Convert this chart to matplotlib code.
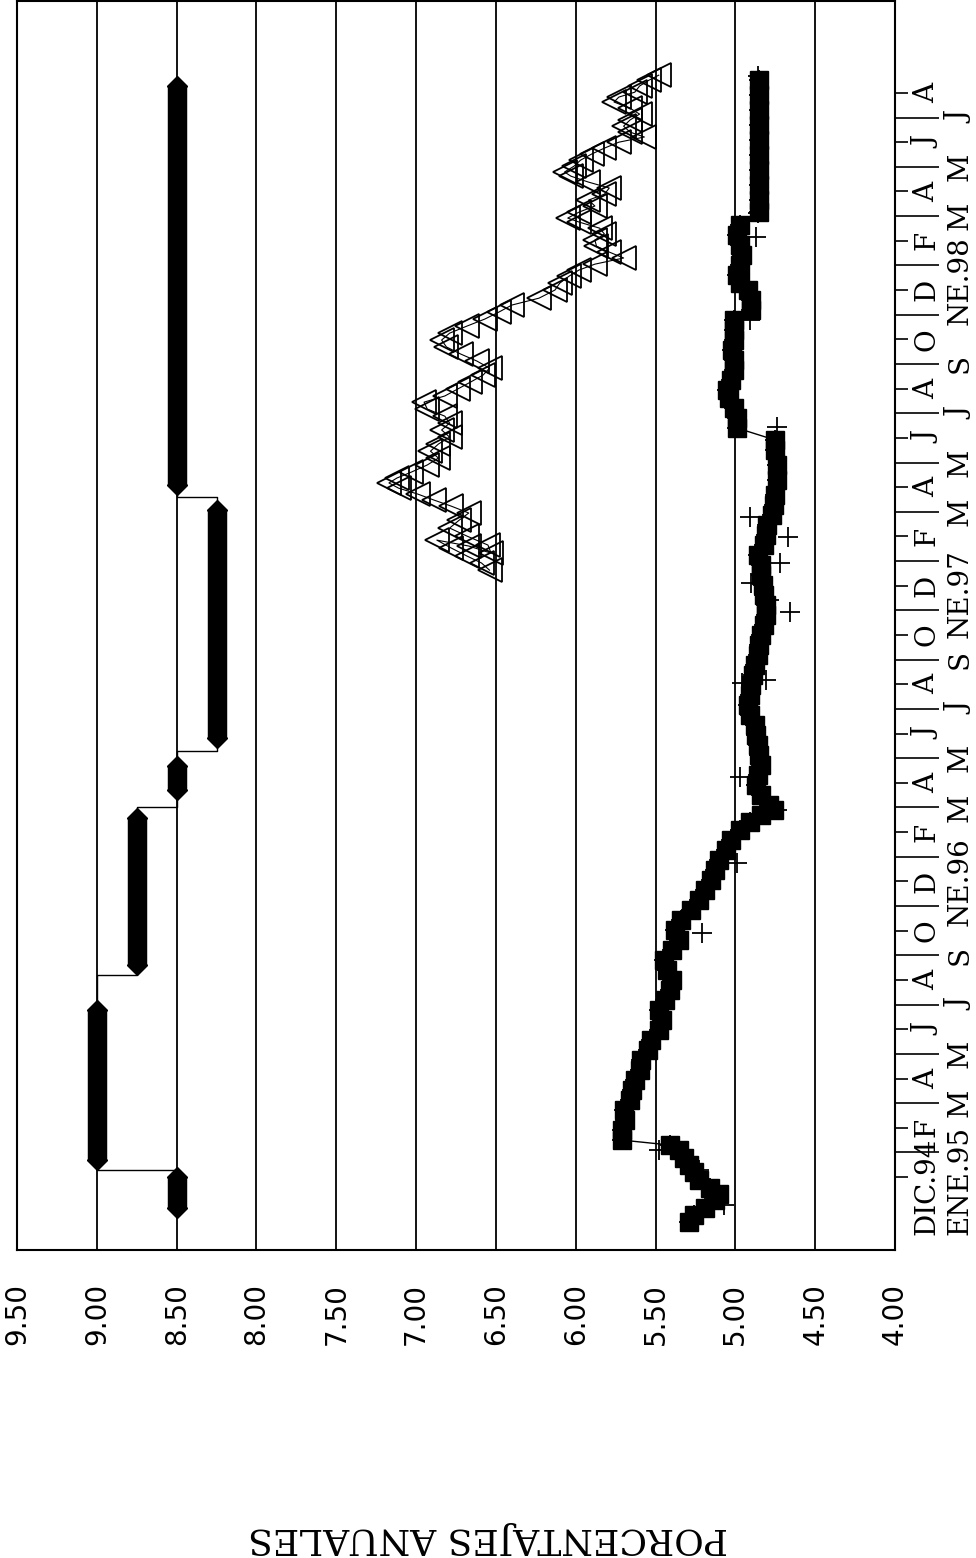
import matplotlib
matplotlib.use('Agg')
import matplotlib.pyplot as plt
import matplotlib.transforms as mtransforms
import numpy as np

# time axis is in months counted from DIC.94 (0) ; value axis in % (drawn reversed)

# official rate: levels held between dates (thick bars) and dates of change
rate_start = [-1.26, 0.69, 8.6, 15.7, 17.8, 28.1]
rate_end = [0.0, 6.78, 14.57, 16.7, 27.07, 44.3]
rate_level = [8.50, 9.00, 8.75, 8.50, 8.25, 8.50]
rate_change = [0.28, 8.2, 15.0, 17.3, 27.6]

# triangle series (from end 1996)
tri_t = [24.63, 24.92, 25.20, 25.53, 25.85, 25.61, 25.32, 25.65, 26.01, 26.34,
         26.66, 26.95, 27.23, 27.48, 27.72, 27.96, 28.17, 28.37, 28.61, 28.90,
         29.18, 29.46, 29.75, 30.03, 30.32, 30.60, 30.88, 31.17, 31.45, 31.70,
         31.98, 32.26, 32.55, 32.83, 33.12, 33.40, 33.69, 33.97, 34.25, 34.54,
         34.82, 35.11, 35.39, 35.67, 36.00, 36.28, 36.57, 36.81, 37.05, 37.30,
         37.54, 37.78, 38.03, 38.27, 38.51, 38.76, 38.92, 39.16, 39.41, 39.65,
         39.89, 40.14, 40.38, 40.62, 40.79, 41.03, 41.27, 41.52, 41.76, 42.00,
         42.21, 42.41, 42.65, 42.90, 43.14, 43.38, 43.63, 43.83, 44.03, 44.28,
         44.52, 44.72]
tri_v = [6.54, 6.59, 6.68, 6.78, 6.87, 6.67, 6.53, 6.55, 6.68, 6.79,
         6.73, 6.67, 6.78, 6.89, 6.99, 7.11, 7.17, 7.12, 7.03, 6.93,
         6.86, 6.91, 6.86, 6.79, 6.84, 6.79, 6.82, 6.93, 6.95, 6.82,
         6.74, 6.66, 6.58, 6.54, 6.62, 6.72, 6.81, 6.84, 6.79, 6.68,
         6.57, 6.48, 6.40, 6.23, 6.13, 6.10, 6.04, 5.98, 5.88, 5.70,
         5.79, 5.87, 5.88, 5.82, 5.85, 5.98, 6.05, 5.98, 5.88, 5.92,
         5.82, 5.79, 5.92, 6.03, 6.07, 6.01, 5.97, 5.90, 5.82, 5.73,
         5.57, 5.66, 5.70, 5.66, 5.60, 5.66, 5.76, 5.73, 5.63, 5.60,
         5.54, 5.48]

# square / cross series
sq_t = [-1.83, -1.54, -1.26, -0.93, -0.69, -0.45, -0.12, 0.20, 0.49, 0.77,
        1.10, 1.30, 1.50, 1.91, 2.31, 2.72, 3.12, 3.53, 3.94, 4.34,
        4.75, 5.15, 5.56, 5.97, 6.37, 6.78, 7.18, 7.59, 7.99, 8.40,
        8.81, 9.21, 9.62, 10.02, 10.43, 10.84, 11.24, 11.65, 12.05, 12.46,
        12.87, 13.27, 13.68, 14.08, 14.41, 14.69, 14.89, 15.10, 15.50, 15.91,
        16.31, 16.72, 17.13, 17.53, 17.94, 18.34, 18.75, 19.16, 19.56, 19.97,
        20.37, 20.78, 21.19, 21.59, 22.00, 22.40, 22.81, 23.21, 23.62, 24.03,
        24.43, 24.84, 25.24, 25.65, 26.06, 26.46, 26.87, 27.27, 27.68, 28.29,
        28.90, 29.50, 29.91, 30.40, 30.80, 31.21, 31.62, 31.94, 32.35, 32.75,
        33.16, 33.56, 33.97, 34.38, 34.78, 35.19, 35.59, 36.00, 36.28, 36.61,
        37.01, 37.42, 37.82, 38.23, 38.64, 39.16, 39.65, 40.26, 40.87, 41.48,
        42.09, 42.69, 43.30, 43.91, 44.52]
sq_v = [5.29, 5.26, 5.19, 5.13, 5.10, 5.16, 5.23, 5.26, 5.29, 5.32,
        5.35, 5.41, 5.71, 5.71, 5.69, 5.70, 5.66, 5.65, 5.63, 5.60,
        5.59, 5.55, 5.53, 5.48, 5.46, 5.48, 5.44, 5.41, 5.40, 5.43,
        5.45, 5.40, 5.35, 5.38, 5.34, 5.28, 5.23, 5.19, 5.15, 5.13,
        5.10, 5.06, 5.03, 4.97, 4.91, 4.84, 4.76, 4.79, 4.84, 4.87,
        4.86, 4.84, 4.85, 4.86, 4.87, 4.88, 4.91, 4.92, 4.91, 4.90,
        4.89, 4.88, 4.86, 4.85, 4.84, 4.82, 4.81, 4.81, 4.82, 4.83,
        4.84, 4.84, 4.86, 4.82, 4.81, 4.80, 4.77, 4.76, 4.75, 4.74,
        4.74, 4.75, 4.75, 4.99, 4.99, 5.01, 5.04, 5.05, 5.03, 5.01,
        5.01, 5.02, 5.01, 5.01, 5.01, 4.90, 4.90, 4.92, 4.97, 4.99,
        4.97, 4.96, 4.97, 4.99, 4.97, 4.85, 4.85, 4.85, 4.85, 4.85,
        4.85, 4.85, 4.85, 4.85, 4.85]

# loose crosses away from the band
plus_t = [-1.14, 0.28, 1.10, 9.90, 12.74, 14.89, 16.23, 20.05, 20.17, 22.93,
          23.42, 24.11, 24.92, 25.97, 26.79, 30.44, 34.78, 38.15, 39.12, 44.70]
plus_v = [5.07, 5.23, 5.48, 5.21, 4.99, 4.74, 4.97, 4.96, 4.81, 4.66,
          4.79, 4.90, 4.72, 4.67, 4.91, 4.74, 4.91, 4.87, 4.86, 4.86]

value_ticks = [9.5, 9.0, 8.5, 8.0, 7.5, 7.0, 6.5, 6.0, 5.5, 5.0, 4.5, 4.0]
value_labels = ['9.50', '9.00', '8.50', '8.00', '7.50', '7.00',
                '6.50', '6.00', '5.50', '5.00', '4.50', '4.00']

month_row1 = ['DIC.94', 'F', 'A', 'J', 'A', 'O', 'D', 'F', 'A', 'J', 'A', 'O',
              'D', 'F', 'A', 'J', 'A', 'O', 'D', 'F', 'A', 'J', 'A']
month_row2 = ['ENE.95', 'M', 'M', 'J', 'S', '', 'NE.96', 'M', 'M', 'J', 'S', '',
              'NE.97', 'M', 'M', 'J', 'S', '', 'NE.98', 'M', 'M', 'J']

fig = plt.figure(figsize=(9.76, 15.58), dpi=100)
ax = fig.add_axes([17/976, 1 - 1250/1558, 878/976, 1249/1558])
ax.set_xlim(9.5, 4.0)
ax.set_ylim(-2.96, 47.73)

# thin step line of the official rate
path_v = [rate_level[0]]
path_t = [rate_start[0]]
for i, tc in enumerate(rate_change):
    path_v += [rate_level[i], rate_level[i + 1]]
    path_t += [tc, tc]
path_v.append(rate_level[-1])
path_t.append(rate_end[-1])
ax.plot(path_v, path_t, color='black', lw=1.0, zorder=3)

for t0, t1, lv in zip(rate_start, rate_end, rate_level):
    ax.plot([lv, lv], [t0, t1], color='black', lw=14, solid_capstyle='butt', zorder=4)
    ax.plot([lv, lv], [t0, t1], ls='none', marker='D', ms=10, color='black', zorder=4)

ax.plot(tri_v, tri_t, color='black', lw=0.8, marker='<', ms=17, mfc='none',
        mec='black', mew=1.3, zorder=3)

ax.plot(sq_v, sq_t, color='black', lw=1.0, marker='s', ms=12.5, mfc='black',
        mec='black', zorder=3)
ax.plot(sq_v, sq_t, ls='none', marker='+', ms=15, mew=1.3, color='black', zorder=3)
ax.plot(plus_v, plus_t, ls='none', marker='+', ms=15, mew=1.3, color='black', zorder=3)

# value axis (bottom)
ax.set_xticks(value_ticks)
ax.set_xticklabels(value_labels, rotation=90, fontsize=20, family='DejaVu Sans')
ax.tick_params(axis='x', length=0, pad=24)
ax.grid(axis='x', color='black', lw=1.3)

# month axis (right)
ax.yaxis.set_ticks_position('right')
ax.set_yticks(np.arange(0, 45, 2))
ax.set_yticks(np.arange(1, 44, 2), minor=True)
ax.set_yticklabels([])
ax.tick_params(axis='y', which='major', length=9.5, width=1.2, color='black')
ax.tick_params(axis='y', which='minor', length=32, width=1.2, color='black')

for s in ax.spines.values():
    s.set_linewidth(1.5)
    s.set_color('black')

trans = mtransforms.blended_transform_factory(ax.transAxes, ax.transData)
for i, lab in enumerate(month_row1):
    m = 2 * i
    if i == 0:
        ax.text(1.0365, -2.35, lab, transform=trans, rotation=90, fontsize=20,
                family='DejaVu Serif', ha='center', va='bottom')
    else:
        ax.text(1.0365, m, lab, transform=trans, rotation=90, fontsize=20,
                family='DejaVu Serif', ha='center', va='center')

shift = {'NE.96': -1.0, 'NE.97': -1.3, 'NE.98': -0.6}
for i, lab in enumerate(month_row2):
    m = 2 * i + 1
    if lab == '':
        continue
    if i == 0:
        ax.text(1.074, -2.35, lab, transform=trans, rotation=90, fontsize=20,
                family='DejaVu Serif', ha='center', va='bottom')
    else:
        ax.text(1.074, m + shift.get(lab, 0), lab, transform=trans, rotation=90,
                fontsize=20, family='DejaVu Serif', ha='center', va='center')

fig.text(0.5, 1 - 1538/1558, 'PORCENTAJES ANUALES', rotation=180, fontsize=26,
         family='DejaVu Serif', ha='center', va='center')

fig.savefig('out.png', dpi=100)
